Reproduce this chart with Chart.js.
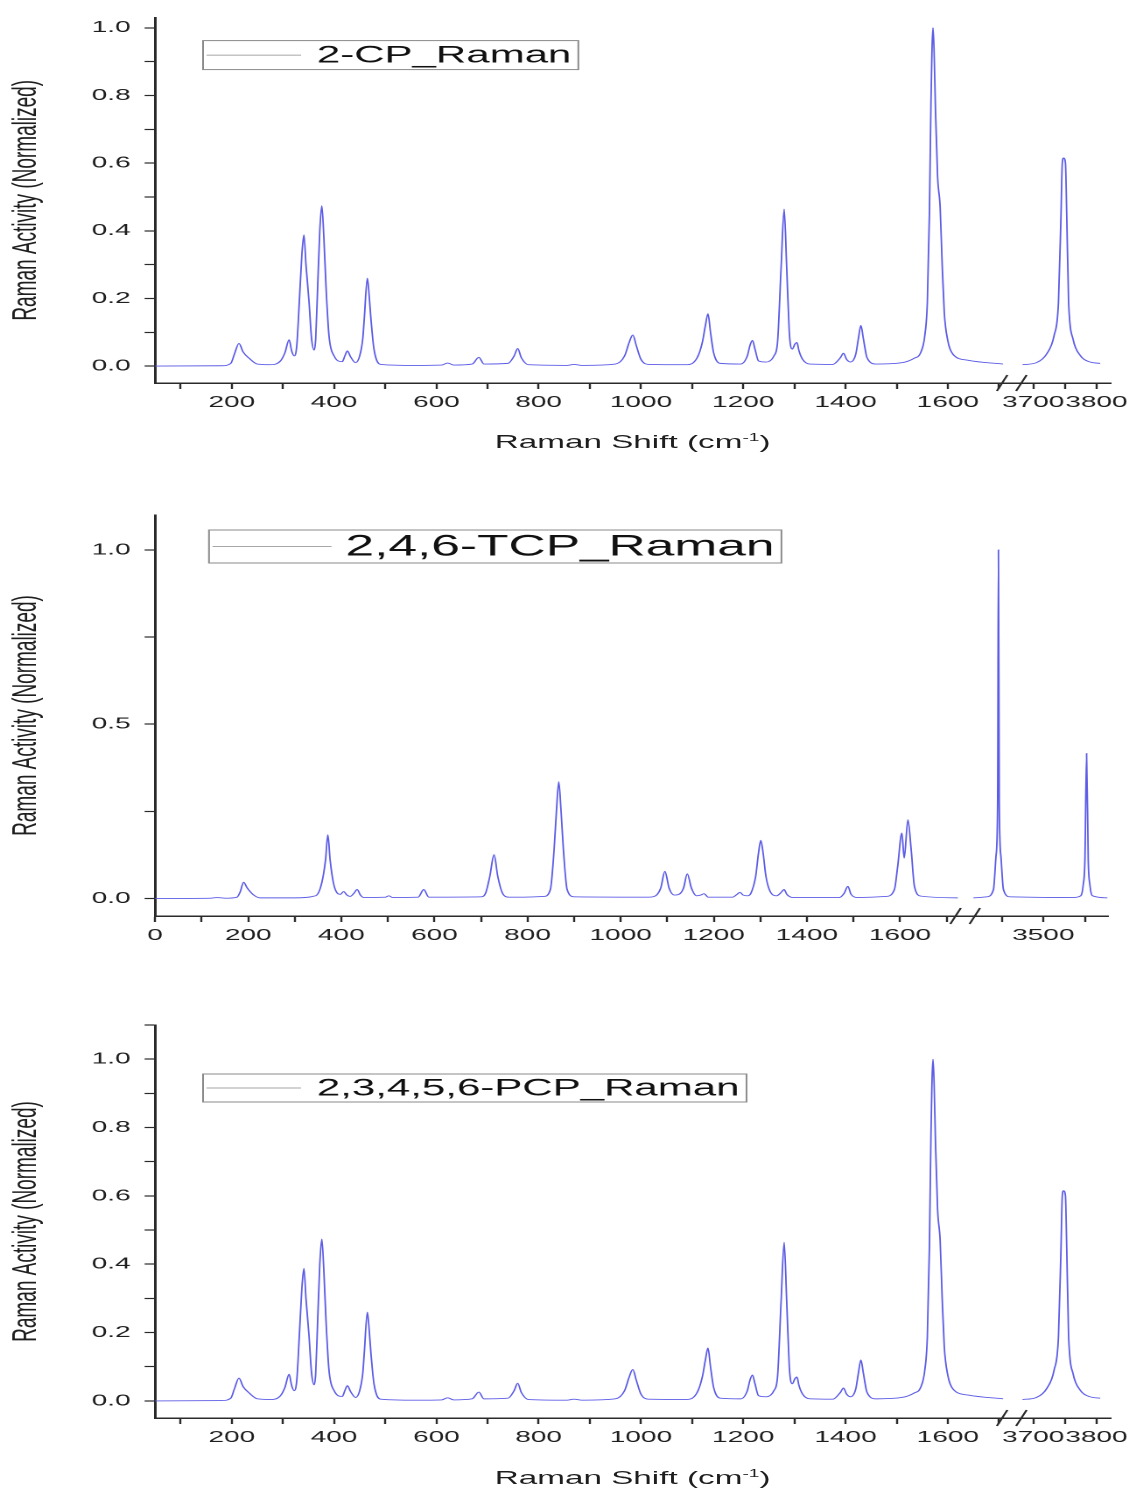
<!DOCTYPE html>
<html lang="en">
<head>
<meta charset="utf-8">
<title>Raman spectra</title>
<script src="https://cdn.jsdelivr.net/npm/chart.js@4.4.1/dist/chart.umd.min.js"></script>
<style>
  html, body { margin: 0; padding: 0; background: #fff; }
  body { width: 1129px; height: 1490px; overflow: hidden; position: relative; }
  /* the figure is drawn narrow and stretched sideways, like the source image */
  #stage { position: absolute; left: 0; top: 0; width: 645px; height: 1490px;
           transform: scaleX(1.7504); transform-origin: 0 0; }
  .panel { position: absolute; left: 0; width: 645px; }
  .xtitle { position: absolute; left: 88.6px; width: 545.7px; text-align: center;
            font: 19px/20px "Liberation Sans", Arial, sans-serif; color: #1e1e1e; }
  .xtitle sup { font-size: 11px; }
</style>
</head>
<body>
<div id="stage">
  <div class="panel" style="top:0;height:460px"><canvas id="c1"></canvas></div>
  <div class="xtitle" style="top:427px">Raman Shift (cm<sup>-1</sup>)</div>
  <div class="panel" style="top:490px;height:480px"><canvas id="c2"></canvas></div>
  <div class="panel" style="top:1000px;height:490px"><canvas id="c3"></canvas></div>
  <div class="xtitle" style="top:1463px">Raman Shift (cm<sup>-1</sup>)</div>
</div>
<script>
// [shift cm-1, normalized activity]
var cpLeft = [[50,0],[180,0.001],[198,0.008],[205,0.035],[214,0.067],[222,0.042],[234,0.023],[250,0.006],[275,0.004],
  [295,0.015],[304,0.04],[312,0.078],[317,0.045],[322,0.03],[327,0.06],[332,0.19],[337,0.33],[341,0.388],[345,0.3],
  [351,0.19],[356,0.08],[361,0.047],[364,0.08],[368,0.24],[372,0.4],[376,0.474],[380,0.38],[384,0.24],[390,0.09],
  [400,0.03],[416,0.013],[421,0.03],[426,0.045],[432,0.028],[442,0.01],[450,0.03],[456,0.08],[459,0.14],[465,0.26],
  [469,0.2],[472,0.14],[478,0.05],[491,0.005],[560,0.002],[610,0.003],[622,0.009],[634,0.003],[670,0.006],[683,0.026],
  [693,0.006],[740,0.008],[752,0.03],[759,0.052],[766,0.025],[780,0.004],[855,0.002],[869,0.005],[885,0.002],[950,0.006],
  [968,0.03],[977,0.07],[984,0.092],[991,0.06],[1000,0.02],[1015,0.005],[1090,0.004],[1110,0.025],[1120,0.07],[1126,0.12],
  [1131,0.155],[1136,0.1],[1142,0.04],[1155,0.008],[1195,0.006],[1208,0.03],[1213,0.06],[1218,0.076],[1223,0.05],
  [1230,0.015],[1245,0.012],[1260,0.03],[1267,0.07],[1274,0.29],[1280,0.464],[1285,0.29],[1290,0.1],[1296,0.05],
  [1301,0.065],[1305,0.07],[1309,0.045],[1316,0.02],[1330,0.006],[1375,0.005],[1390,0.025],[1396,0.038],[1402,0.02],
  [1410,0.012],[1420,0.035],[1425,0.08],[1430,0.12],[1435,0.08],[1442,0.025],[1460,0.006],[1510,0.01],[1534,0.023],
  [1547,0.04],[1555,0.09],[1560,0.19],[1564,0.45],[1567,0.775],[1571,1.0],[1573,0.94],[1576,0.75],[1580,0.56],
  [1585,0.47],[1589,0.3],[1593,0.16],[1600,0.075],[1610,0.035],[1640,0.017],[1708,0.006]];
var cpRight = [[3683,0.004],[3705,0.01],[3722,0.038],[3733,0.09],[3740,0.19],[3744,0.45],[3746,0.6],[3748,0.615],
  [3751,0.6],[3753,0.45],[3756,0.19],[3763,0.08],[3775,0.03],[3790,0.012],[3806,0.008]];

var tcpLeft = [[0,0],[120,0.001],[133,0.003],[150,0.001],[176,0.004],[183,0.02],[190,0.047],[198,0.03],[211,0.011],
  [226,0.002],[300,0.002],[345,0.008],[358,0.045],[366,0.11],[371,0.183],[376,0.11],[383,0.045],[391,0.016],[398,0.012],
  [405,0.02],[412,0.01],[419,0.006],[427,0.015],[434,0.026],[441,0.01],[448,0.003],[495,0.004],[502,0.008],[510,0.003],
  [565,0.004],[577,0.026],[588,0.004],[700,0.005],[710,0.016],[719,0.064],[728,0.126],[736,0.064],[746,0.016],[760,0.004],
  [792,0.004],[835,0.006],[849,0.026],[857,0.14],[862,0.25],[867,0.335],[872,0.25],[877,0.14],[885,0.026],[900,0.005],
  [1060,0.004],[1075,0.008],[1086,0.03],[1095,0.078],[1104,0.03],[1115,0.01],[1125,0.012],[1135,0.03],[1143,0.071],
  [1152,0.03],[1163,0.008],[1172,0.01],[1179,0.014],[1188,0.004],[1240,0.004],[1250,0.012],[1256,0.018],[1263,0.01],
  [1273,0.008],[1280,0.016],[1290,0.064],[1296,0.13],[1301,0.167],[1306,0.13],[1312,0.064],[1323,0.016],[1335,0.008],
  [1345,0.018],[1351,0.026],[1357,0.012],[1370,0.003],[1470,0.003],[1480,0.015],[1488,0.035],[1495,0.012],[1510,0.003],
  [1570,0.006],[1588,0.026],[1595,0.092],[1604,0.188],[1609,0.116],[1617,0.226],[1624,0.14],[1631,0.035],[1645,0.007],
  [1724,0.002]];
var tcpRight = [[3416,0.002],[3432,0.005],[3440,0.026],[3443,0.12],[3445,0.27],[3446,1.0],[3447,0.27],[3449,0.12],
  [3452,0.026],[3460,0.005],[3535,0.003],[3545,0.008],[3548,0.04],[3550,0.11],[3552,0.416],[3554,0.11],[3556,0.04],
  [3559,0.008],[3577,0.002]];

var pcpLeft = [[50,0],[180,0.001],[198,0.008],[205,0.035],[214,0.067],[222,0.042],[234,0.023],[250,0.006],[275,0.004],
  [295,0.015],[304,0.04],[312,0.078],[317,0.045],[322,0.03],[327,0.06],[332,0.19],[337,0.33],[341,0.388],[345,0.3],
  [351,0.19],[356,0.08],[361,0.047],[364,0.08],[368,0.24],[372,0.4],[376,0.474],[380,0.38],[384,0.24],[390,0.09],
  [400,0.03],[416,0.013],[421,0.03],[426,0.045],[432,0.028],[442,0.01],[450,0.03],[456,0.08],[459,0.14],[465,0.26],
  [469,0.2],[472,0.14],[478,0.05],[491,0.005],[560,0.002],[610,0.003],[622,0.009],[634,0.003],[670,0.006],[683,0.026],
  [693,0.006],[740,0.008],[752,0.03],[759,0.052],[766,0.025],[780,0.004],[855,0.002],[869,0.005],[885,0.002],[950,0.006],
  [968,0.03],[977,0.07],[984,0.092],[991,0.06],[1000,0.02],[1015,0.005],[1090,0.004],[1110,0.025],[1120,0.07],[1126,0.12],
  [1131,0.155],[1136,0.1],[1142,0.04],[1155,0.008],[1195,0.006],[1208,0.03],[1213,0.06],[1218,0.076],[1223,0.05],
  [1230,0.015],[1245,0.012],[1260,0.03],[1267,0.07],[1274,0.29],[1280,0.464],[1285,0.29],[1290,0.1],[1296,0.05],
  [1301,0.065],[1305,0.07],[1309,0.045],[1316,0.02],[1330,0.006],[1375,0.005],[1390,0.025],[1396,0.038],[1402,0.02],
  [1410,0.012],[1420,0.035],[1425,0.08],[1430,0.12],[1435,0.08],[1442,0.025],[1460,0.006],[1510,0.01],[1534,0.023],
  [1547,0.04],[1555,0.09],[1560,0.19],[1564,0.45],[1567,0.775],[1571,1.0],[1573,0.94],[1576,0.75],[1580,0.56],
  [1585,0.47],[1589,0.3],[1593,0.16],[1600,0.075],[1610,0.035],[1640,0.017],[1708,0.006]];
var pcpRight = [[3683,0.004],[3705,0.01],[3722,0.038],[3733,0.09],[3740,0.19],[3744,0.45],[3746,0.6],[3748,0.615],
  [3751,0.6],[3753,0.45],[3756,0.19],[3763,0.08],[3775,0.03],[3790,0.012],[3806,0.008]];

var lineColor = '#5b5be6';
var axisColor = '#2a2a2a';
var family = '"Liberation Sans", Arial, sans-serif';

// boxed legend drawn inside the plot, as in Origin
var boxLegend = {
	id: 'boxLegend',
	afterDatasetsDraw: function(chart, args, o) {
		var ctx = chart.ctx, area = chart.chartArea;
		var ds = chart.data.datasets[0];
		ctx.save();
		ctx.font = o.size + 'px ' + family;
		var tw = ctx.measureText(ds.label).width;
		var x = area.left + o.ox, y = area.top + o.oy;
		var w = 2 + o.lineLen + o.gap + tw + 4;
		ctx.fillStyle = '#fff';
		ctx.fillRect(x, y, w, o.h);
		ctx.strokeStyle = '#8a8a8a';
		ctx.lineWidth = 1;
		ctx.strokeRect(x, y, w, o.h);
		ctx.strokeStyle = ds.borderColor;
		ctx.lineWidth = 0.8;
		ctx.beginPath();
		ctx.moveTo(x + 2, y + o.h / 2);
		ctx.lineTo(x + 2 + o.lineLen, y + o.h / 2);
		ctx.stroke();
		ctx.fillStyle = '#111';
		ctx.textBaseline = 'middle';
		ctx.fillText(ds.label, x + 2 + o.lineLen + o.gap, y + o.h / 2 + 1);
		ctx.restore();
	}
};

// "//" marks where the two x segments meet
var axisBreak = {
	id: 'axisBreak',
	afterDraw: function(chart) {
		var s = chart.scales.x, ctx = chart.ctx;
		var bx = s.right, by = s.top;
		ctx.save();
		ctx.strokeStyle = axisColor;
		ctx.lineWidth = 1.2;
		[-5.5, 5.5].forEach(function(dx) {
			ctx.beginPath();
			ctx.moveTo(bx + dx - 3, by + 8);
			ctx.lineTo(bx + dx + 3, by - 8);
			ctx.stroke();
		});
		ctx.restore();
	}
};

function every(step, fmt) {
	return function(v) {
		var r = v / step;
		return Math.abs(r - Math.round(r)) < 1e-6 ? fmt(v) : '';
	};
}

function xAxis(min, max, weight, stepSize, labelStep) {
	return {
		type: 'linear', position: 'bottom', stack: 'brk', stackWeight: weight,
		min: min, max: max,
		border: {color: axisColor, width: 1.5},
		grid: {drawOnChartArea: false, tickLength: 6, tickColor: axisColor, tickWidth: 1.2},
		ticks: {
			stepSize: stepSize, includeBounds: false, autoSkip: false, maxRotation: 0, minRotation: 0,
			padding: 4, color: '#1e1e1e', font: {family: family, size: 16},
			callback: every(labelStep, function(v) { return String(v); })
		},
		// labels may hang past the segment ends, keep the plot width fixed
		afterFit: function(s) { s.height = 30; s.paddingLeft = 0; s.paddingRight = 0; }
	};
}

function makePanel(id, name, left, right, ax, lg, pad) {
	return new Chart(document.getElementById(id), {
		type: 'line',
		data: {
			datasets: [
				{label: name, data: left.map(function(p) { return {x: p[0], y: p[1]}; }), xAxisID: 'x'},
				{label: name, data: right.map(function(p) { return {x: p[0], y: p[1]}; }), xAxisID: 'x2'}
			]
		},
		plugins: [boxLegend, axisBreak],
		options: {
			responsive: true,
			maintainAspectRatio: false,
			devicePixelRatio: 2,
			animation: false,
			events: [],
			layout: {padding: pad},
			elements: {
				point: {radius: 0},
				line: {borderColor: lineColor, borderWidth: 0.9, cubicInterpolationMode: 'monotone', fill: false}
			},
			plugins: {
				legend: {display: false},
				tooltip: {enabled: false},
				boxLegend: lg
			},
			scales: {
				x: xAxis(ax.l[0], ax.l[1], ax.l[2], 100, 200),
				x2: xAxis(ax.r[0], ax.r[1], ax.r[2], ax.r[3], 100),
				y: {
					min: -0.05, max: ax.yMax,
					border: {color: axisColor, width: 1.5},
					grid: {drawOnChartArea: false, tickLength: 6, tickColor: axisColor, tickWidth: 1.2},
					ticks: {
						stepSize: ax.yStep, includeBounds: false, padding: 8, color: '#1e1e1e',
						font: {family: family, size: 16},
						callback: every(ax.yLabel, function(v) { return v.toFixed(1); })
					},
					title: {
						display: true, text: 'Raman Activity (Normalized)', color: '#1e1e1e',
						font: {family: family, size: 19}, padding: {top: 4, bottom: 0}
					},
					afterFit: function(s) { s.width = 88.6; }
				}
			}
		}
	});
}

makePanel('c1', '2-CP_Raman', cpLeft, cpRight,
	{l: [50, 1725, 489.4], r: [3666, 3822, 56.3, 50], yMax: 1.03, yStep: 0.1, yLabel: 0.2},
	{ox: 27.4, oy: 23, h: 29, lineLen: 54, gap: 9, size: 24},
	{top: 14, right: 10.7, bottom: 47, left: 0});

makePanel('c2', '2,4,6-TCP_Raman', tcpLeft, tcpRight,
	{l: [0, 1740, 462.8], r: [3406, 3578, 81.7, 50], yMax: 1.1, yStep: 0.25, yLabel: 0.5},
	{ox: 30.8, oy: 15, h: 33, lineLen: 68, gap: 8, size: 29.4},
	{top: 25, right: 11.9, bottom: 24, left: 0});

makePanel('c3', '2,3,4,5,6-PCP_Raman', pcpLeft, pcpRight,
	{l: [50, 1725, 489.4], r: [3666, 3822, 56.3, 50], yMax: 1.1, yStep: 0.1, yLabel: 0.2},
	{ox: 27.4, oy: 49, h: 28, lineLen: 54, gap: 9, size: 24},
	{top: 25, right: 10.7, bottom: 42, left: 0});
</script>
</body>
</html>
